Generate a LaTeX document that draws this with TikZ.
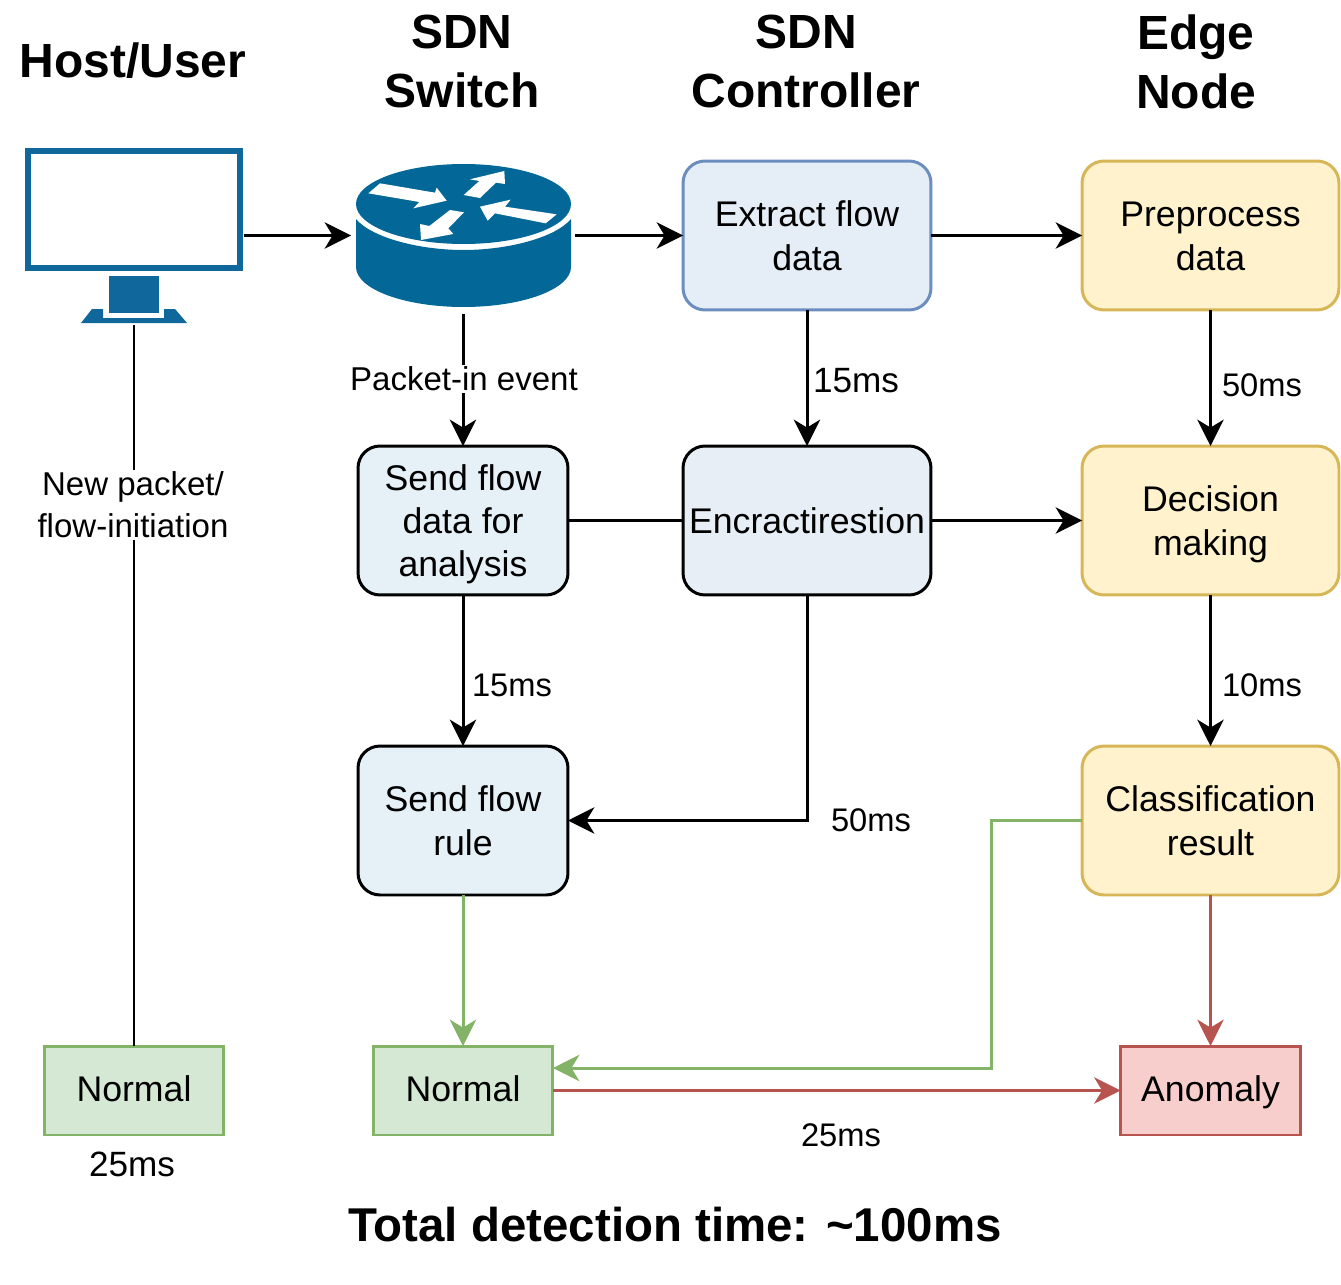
\documentclass[tikz,border=0pt]{standalone}
\usepackage{fontspec}
\setmainfont{Liberation Sans}
\usetikzlibrary{arrows.meta}

\definecolor{routerblue}{HTML}{036897}
\definecolor{hostblue}{HTML}{10679C}
\definecolor{extractfill}{HTML}{E5EDF6}
\definecolor{extractline}{HTML}{6C8EBF}
\definecolor{encrfill}{HTML}{E8EEF6}
\definecolor{sendfill}{HTML}{E5F0F7}
\definecolor{edgefill}{HTML}{FFF2CC}
\definecolor{edgeline}{HTML}{D6B656}
\definecolor{normalfill}{HTML}{D5E8D4}
\definecolor{normalline}{HTML}{82B366}
\definecolor{anomalyfill}{HTML}{F8CECC}
\definecolor{anomalyline}{HTML}{B85450}

\newcommand{\boxstrut}{\rule[-5.4pt]{0pt}{25.5pt}}

\tikzset{
  flowbox/.style={draw=black, rounded corners=0.44cm, line width=1.7pt, outer sep=0pt, align=center,
    minimum width=4.96cm, minimum height=2.98cm, inner sep=0pt, font=\fontsize{20.3}{25.5}\selectfont,
    execute at end node=\boxstrut},
  sendbox/.style={flowbox, minimum width=4.2cm, fill=sendfill},
  ctrlbox/.style={flowbox, fill=encrfill},
  edgebox/.style={flowbox, draw=edgeline, fill=edgefill, minimum width=5.14cm},
  resultbox/.style={draw, line width=1.7pt, outer sep=0pt, minimum width=3.6cm, minimum height=1.78cm,
    inner sep=0pt, text height=15pt, text depth=2pt, font=\fontsize{20.3}{25}\selectfont},
  iconbox/.style={inner sep=0pt, outer sep=0pt},
  heading/.style={align=center, font=\fontsize{27.3}{33.5}\bfseries\selectfont},
  timelabel/.style={font=\fontsize{18.6}{24}\selectfont},
  linklabel/.style={fill=white, align=center, inner sep=1pt, font=\fontsize{18.8}{24}\selectfont},
  flow/.style={line width=1.7pt, -{Stealth[length=15pt, width=15pt, inset=4.5pt]}},
  plainflow/.style={line width=1.7pt},
}

\begin{document}
\begin{tikzpicture}[%
      x=0.02cm,
      y=-0.02cm,
      ]
      \useasboundingbox (0,0) rectangle (1341,1284);

      % column titles
      \node [heading] (hosttitle) at (133,61) {Host/User};
      \node [heading] (switchtitle) at (462,61.5) {SDN\\Switch};
      \node [heading] (ctrltitle) at (806,61.5) {SDN\\Controller};
      \node [heading] (edgetitle) at (1196,61.5) {Edge\\Node};

      % host icon
      \node [iconbox, minimum width=4.4cm, minimum height=3.6cm] (host) at (134,235.5) {};
      \draw [color=hostblue, line width=3.4pt] (28,151) rectangle (240,268);
      \fill [color=hostblue] (109,276) rectangle (159,313);
      \fill [color=hostblue] (81,323) -- (92,309) -- (103,309) -- (103,318) -- (164,318) -- (164,309)
        -- (175,309) -- (187,323) -- cycle;

      % router icon
      \node [iconbox, minimum width=4.48cm, minimum height=3.16cm] (router) at (463,235.5) {};
      \fill [color=routerblue] (463.5,204) ellipse (107.5 and 40);
      \fill [color=routerblue] (356,219) .. controls (372,238) and (420,250) .. (463.5,250)
        .. controls (507,250) and (555,238) .. (571,219) -- (571,267)
        .. controls (571,289) and (523,307) .. (463.5,307)
        .. controls (404,307) and (356,289) .. (356,267) -- cycle;
      \begin{scope}[shift={(340,150)}, x=0.00667cm, y=-0.00667cm]
        \fill [white] (120,100) -- (285,128) -- (290,113) -- (320,152) -- (220,175) -- (238,156) -- (85,130) -- cycle;
        \fill [white] (493,63) -- (495,102) -- (468,98) -- (420,144) -- (371,135) -- (418,93) -- (390,88) -- cycle;
        \fill [white] (330,180) -- (372,187) -- (325,235) -- (340,252) -- (243,270) -- (240,222) -- (268,228) -- cycle;
        \fill [white] (420,170) -- (512,149) -- (495,170) -- (650,193) -- (617,220) -- (465,190) -- (443,212) -- cycle;
      \end{scope}

      % boxes
      \node [ctrlbox, draw=extractline, fill=extractfill] (extract) at (807,235.5) {\boxstrut Extract flow\\data};
      \node [edgebox] (preprocess) at (1210.5,235.5) {\boxstrut Preprocess\\data};
      \node [sendbox, font=\fontsize{20.3}{24.6}\selectfont] (senddata) at (463,520.5) {\boxstrut Send flow\\data for\\analysis};
      \node [ctrlbox] (encr) at (807,520.5) {Encractirestion};
      \node [edgebox] (decision) at (1210.5,520.5) {\boxstrut Decision\\making};
      \node [sendbox] (sendrule) at (463,820.5) {\boxstrut Send flow\\rule};
      \node [edgebox] (classify) at (1210.5,820.5) {\boxstrut Classification\\result};
      \node [resultbox, draw=normalline, fill=normalfill] (hostnormal) at (134,1090.5) {Normal};
      \node [resultbox, draw=normalline, fill=normalfill] (switchnormal) at (463,1090.5) {Normal};
      \node [resultbox, draw=anomalyline, fill=anomalyfill] (anomaly) at (1210.5,1090.5) {Anomaly};

      \coordinate (rulebend) at (807,820.5);
      \coordinate (classbend) at (991,820.5);
      \coordinate (normalbend) at (991,1068);
      \coordinate (normalin) at (553,1068);

      % connectors
      \draw [plainflow] (host) -- (hostnormal);
      \draw [flow] (host) -- (router);
      \draw [flow] (router) -- (extract);
      \draw [flow] (extract) -- (preprocess);
      \draw [flow] (router) -- (senddata);
      \draw [flow] (extract) -- (encr);
      \draw [flow] (preprocess) -- (decision);
      \draw [plainflow] (senddata) -- (encr);
      \draw [flow] (encr) -- (decision);
      \draw [flow] (senddata) -- (sendrule);
      \draw [flow] (decision) -- (classify);
      \draw [flow] (encr) -- (rulebend) -- (sendrule);
      \draw [flow, color=normalline] (sendrule) -- (switchnormal);
      \draw [flow, color=normalline] (classify.west |- classbend) -- (classbend) -- (normalbend) -- (normalin);
      \draw [flow, color=anomalyline] (classify) -- (anomaly);
      \draw [flow, color=anomalyline] (switchnormal) -- (anomaly);

      % labels
      \node [linklabel] (newpacket) at (133,505) {New packet/\\flow-initiation};
      \node [linklabel] (packetin) at (464,379) {Packet-in event};
      \node [timelabel, font=\fontsize{20}{24}\selectfont] (extracttime) at (856,381) {15ms};
      \node [timelabel] (preptime) at (1262,385) {50ms};
      \node [timelabel] (sendtime) at (512,685) {15ms};
      \node [timelabel] (decidetime) at (1262,685) {10ms};
      \node [timelabel] (ruletime) at (871,820) {50ms};
      \node [timelabel] (anomalytime) at (841,1135) {25ms};
      \node [timelabel, font=\fontsize{20}{24}\selectfont] (hosttime) at (132,1164) {25ms};
      \node [heading, font=\fontsize{27}{33.5}\bfseries\selectfont] (totaltime) at (675,1225) {Total detection time: \textasciitilde100ms};
\end{tikzpicture}
\end{document}
